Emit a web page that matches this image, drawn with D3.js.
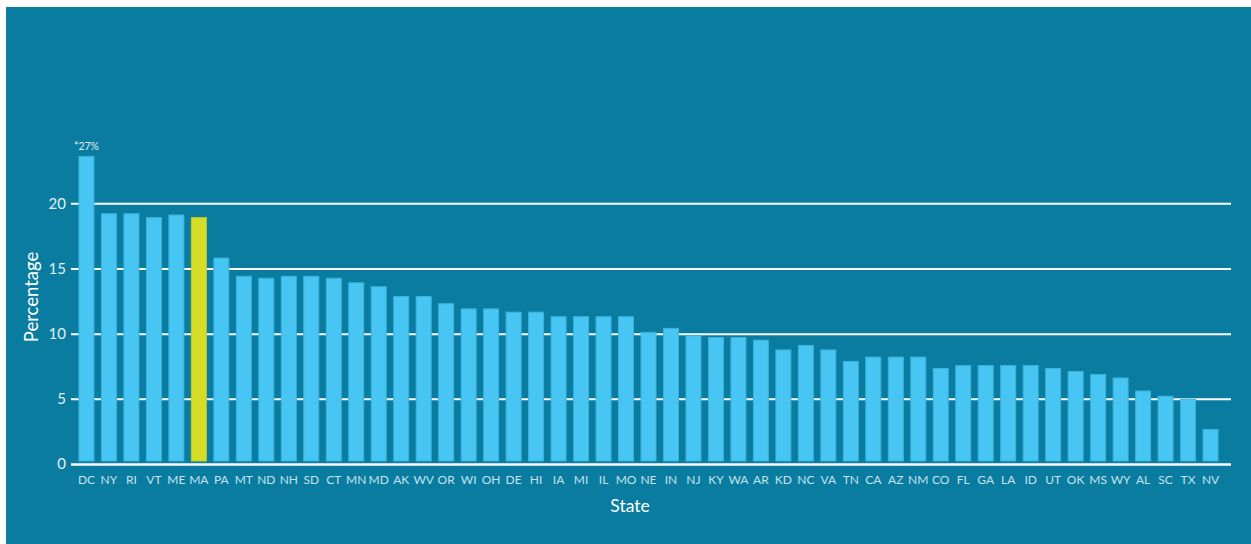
<!DOCTYPE html>
<html>
<head>
<meta charset="utf-8">
<script src="https://cdn.jsdelivr.net/npm/d3@7"></script>
<style>
html,body{margin:0;padding:0;background:#fff;}
svg{display:block;}
</style>
</head>
<body>
<svg id="chart" width="1251" height="544"></svg>
<script>
const states = ["DC","NY","RI","VT","ME","MA","PA","MT","ND","NH","SD","CT","MN","MD","AK","WV","OR","WI","OH","DE","HI","IA","MI","IL","MO","NE","IN","NJ","KY","WA","AR","KD","NC","VA","TN","CA","AZ","NM","CO","FL","GA","LA","ID","UT","OK","MS","WY","AL","SC","TX","NV"];
const values = [23.6,19.2,19.2,18.9,19.1,18.9,15.8,14.4,14.25,14.4,14.4,14.25,13.9,13.6,12.85,12.85,12.3,11.9,11.9,11.65,11.65,11.3,11.3,11.3,11.3,10.1,10.4,9.85,9.7,9.7,9.5,8.75,9.1,8.75,7.87,8.2,8.2,8.2,7.33,7.55,7.55,7.55,7.55,7.33,7.1,6.87,6.6,5.6,5.2,4.97,2.65];
const highlighted = ["MA"];
const yTicks = [0,5,10,15,20];
const annotations = [{state:"DC", text:"*27%"}];

const svg = d3.select("#chart");
const W = 1251, H = 544;
const FONT = "Lato, 'Noto Sans', sans-serif";

svg.append("rect").attr("x",6).attr("y",7).attr("width",W-6).attr("height",H-7).attr("fill","#097ca0");

const x = d3.scaleBand().domain(states).range([72,1225]).paddingInner(0.333).paddingOuter(0.31);
const y = d3.scaleLinear().domain([0,20]).range([464,203.3]);

const gridLeft = 71, gridRight = 1231;

// grid lines
const yAxis = d3.axisLeft(y).tickValues(yTicks.filter(t=>t>0)).tickSize(-(gridRight-gridLeft)).tickPadding(6).tickFormat(d3.format("d"));
const gy = svg.append("g").attr("transform",`translate(${gridLeft},0)`).call(yAxis);
gy.select(".domain").remove();
gy.selectAll(".tick line").attr("stroke","#ffffff").attr("stroke-width",2);
gy.selectAll(".tick text").attr("fill","#e3f1f7").attr("font-family",FONT).attr("font-size",15).attr("x",-5);

// zero label
svg.append("text").attr("x",gridLeft-5).attr("y",y(0)).attr("dy","0.32em").attr("text-anchor","end")
  .attr("fill","#e3f1f7").attr("font-family",FONT).attr("font-size",15).text(yTicks[0]);

// bars
svg.append("g").selectAll("rect").data(states).join("rect")
  .attr("x",d=>x(d))
  .attr("y",(d,i)=>y(values[i]))
  .attr("width",x.bandwidth())
  .attr("height",(d,i)=>y(0)-3-y(values[i]))
  .attr("fill",d=>highlighted.includes(d)?"#d5dd27":"#47c6f3")
  .attr("stroke",d=>highlighted.includes(d)?"#c3cb2a":"#3bb2dc")
  .attr("stroke-width",1);

// baseline
svg.append("line").attr("x1",gridLeft).attr("x2",gridRight).attr("y1",y(0)+0.5).attr("y2",y(0)+0.5)
  .attr("stroke","#ffffff").attr("stroke-width",2.5);

// x axis labels
const xAxis = d3.axisBottom(x).tickSize(0).tickPadding(10);
const gx = svg.append("g").attr("transform",`translate(0,${y(0)+1})`).call(xAxis);
gx.select(".domain").remove();
gx.selectAll(".tick text").attr("fill","#c5e3ef").attr("font-family",FONT).attr("font-size",12);

// annotations
annotations.forEach(a=>{
  const i = states.indexOf(a.state);
  svg.append("text").attr("x",x(a.state)+x.bandwidth()/2).attr("y",y(values[i])-6)
    .attr("text-anchor","middle").attr("fill","#e3f1f7")
    .attr("font-family",FONT).attr("font-size",10.5).text(a.text);
});

// axis titles
svg.append("text").attr("transform","translate(38,297) rotate(-90)").attr("text-anchor","middle")
  .attr("fill","#ffffff").attr("font-family",FONT).attr("font-size",18.5).text("Percentage");
svg.append("text").attr("x",630).attr("y",512).attr("text-anchor","middle")
  .attr("fill","#ffffff").attr("font-family",FONT).attr("font-size",17.5).text("State");
</script>
</body>
</html>
